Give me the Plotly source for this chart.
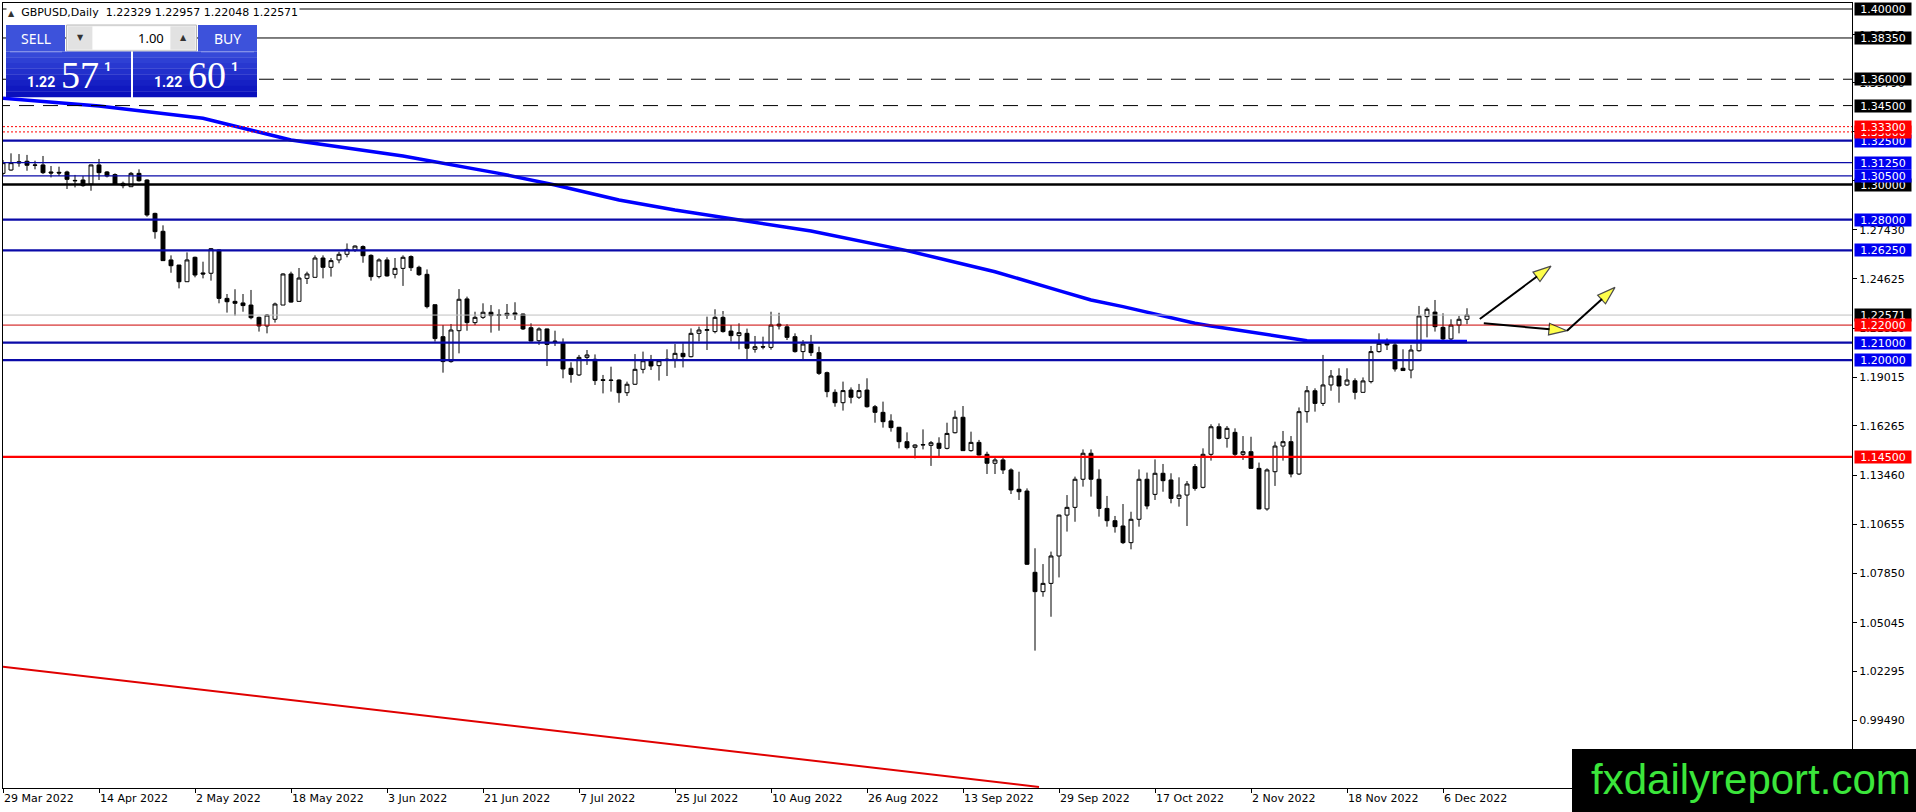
import plotly.graph_objects as go

# ---------------- data ----------------
open_ = [1.3064,1.3083,1.3130,1.3133,1.3112,1.3112,1.3072,1.3070,1.3072,1.3024,
1.3026,1.3003,1.3112,1.3072,1.3057,1.3007,1.2988,1.3064,1.3026,1.2836,
1.2734,1.2571,1.2542,1.2447,1.2586,1.2497,1.2495,1.2628,1.2352,1.2335,
1.2326,1.2314,1.2244,1.2195,1.2233,1.2314,1.2491,1.2335,1.2466,1.2472,
1.2582,1.2529,1.2571,1.2603,1.2628,1.2647,1.2597,1.2476,1.2571,1.2489,
1.2523,1.2590,1.2529,1.2489,1.2316,1.2134,1.1992,1.2168,1.2349,1.2214,
1.2244,1.2273,1.2259,1.2255,1.2269,1.2263,1.2185,1.2111,1.2178,1.2109,
1.2096,1.1954,1.1916,1.2016,1.2005,1.1889,1.1887,1.1887,1.1815,1.1863,
1.1948,1.1997,1.1969,1.2001,1.2005,1.2039,1.2020,1.2153,1.2170,1.2163,
1.2244,1.2166,1.2140,1.2153,1.2062,1.2077,1.2073,1.2205,1.2190,1.2134,
1.2049,1.2092,1.2043,1.1929,1.1817,1.1758,1.1830,1.1789,1.1830,1.1735,
1.1703,1.1654,1.1618,1.1536,1.1504,1.1517,1.1515,1.1527,1.1498,1.1587,
1.1675,1.1485,1.1532,1.1464,1.1413,1.1432,1.1375,1.1265,1.1255,1.0792,
1.0682,1.0729,1.0885,1.1118,1.1162,1.1322,1.1470,1.1322,1.1156,1.1086,
1.1056,1.0961,1.1094,1.1322,1.1236,1.1356,1.1318,1.1213,1.1232,1.1394,
1.1276,1.1464,1.1621,1.1555,1.1589,1.1464,1.1479,1.1384,1.1153,1.1365,
1.1511,1.1536,1.1352,1.1707,1.1826,1.1754,1.1859,1.1910,1.1859,1.1883,
1.1817,1.1878,1.2049,1.2096,1.2087,1.1954,1.1944,1.2054,1.2248,1.2274,
1.2187,1.2121,1.2200,1.22329]

high = [1.3140,1.3178,1.3174,1.3169,1.3136,1.3163,1.3106,1.3102,1.3079,1.3055,
1.3049,1.3114,1.3146,1.3077,1.3064,1.3017,1.3072,1.3087,1.3030,1.2840,
1.2768,1.2597,1.2542,1.2614,1.2590,1.2561,1.2639,1.2632,1.2377,1.2404,
1.2377,1.2400,1.2248,1.2263,1.2328,1.2495,1.2504,1.2525,1.2504,1.2597,
1.2597,1.2582,1.2618,1.2665,1.2654,1.2654,1.2603,1.2580,1.2586,1.2582,
1.2597,1.2597,1.2538,1.2517,1.2316,1.2200,1.2206,1.2405,1.2362,1.2276,
1.2324,1.2314,1.2290,1.2320,1.2330,1.2265,1.2210,1.2187,1.2180,1.2168,
1.2124,1.1988,1.2030,1.2058,1.2033,1.1916,1.1963,1.1891,1.1878,1.2035,
1.2049,1.2030,1.2005,1.2062,1.2092,1.2096,1.2181,1.2191,1.2248,1.2290,
1.2280,1.2200,1.2210,1.2180,1.2138,1.2134,1.2276,1.2270,1.2205,1.2153,
1.2115,1.2144,1.2077,1.1935,1.1834,1.1878,1.1845,1.1865,1.1897,1.1745,
1.1764,1.1692,1.1620,1.1589,1.1521,1.1606,1.1540,1.1561,1.1644,1.1713,
1.1739,1.1593,1.1546,1.1479,1.1451,1.1454,1.1384,1.1365,1.1270,1.0929,
1.0839,1.0910,1.1120,1.1232,1.1337,1.1492,1.1492,1.1378,1.1227,1.1113,
1.1181,1.1137,1.1378,1.1360,1.1435,1.1409,1.1356,1.1333,1.1312,1.1409,
1.1498,1.1635,1.1640,1.1625,1.1612,1.1568,1.1564,1.1417,1.1384,1.1536,
1.1597,1.1568,1.1731,1.1853,1.1840,1.2030,1.1944,1.1954,1.1954,1.1897,
1.1902,1.2081,1.2153,1.2124,1.2109,1.2062,1.2087,1.2309,1.2301,1.2343,
1.2267,1.2233,1.2252,1.22957]

low = [1.3055,1.3079,1.3102,1.3079,1.3087,1.3060,1.3041,1.3049,1.2975,1.2984,
1.2988,1.2965,1.3026,1.3041,1.2998,1.2979,1.2988,1.3017,1.2817,1.2692,
1.2567,1.2498,1.2409,1.2447,1.2472,1.2466,1.2453,1.2324,1.2271,1.2254,
1.2276,1.2233,1.2163,1.2153,1.2214,1.2314,1.2328,1.2335,1.2434,1.2472,
1.2466,1.2476,1.2552,1.2586,1.2616,1.2555,1.2453,1.2466,1.2476,1.2466,
1.2423,1.2508,1.2480,1.2295,1.2106,1.1929,1.1986,1.2039,1.2168,1.2200,
1.2235,1.2157,1.2168,1.2235,1.2229,1.2172,1.2106,1.2087,1.1967,1.2081,
1.1897,1.1872,1.1910,1.1973,1.1859,1.1811,1.1821,1.1758,1.1796,1.1859,
1.1925,1.1944,1.1884,1.1910,1.1957,1.1959,1.2016,1.2106,1.2058,1.2153,
1.2157,1.2106,1.2062,1.2005,1.2043,1.2062,1.2060,1.2175,1.2115,1.2043,
1.2005,1.2024,1.1916,1.1789,1.1735,1.1713,1.1754,1.1779,1.1730,1.1644,
1.1616,1.1593,1.1498,1.1492,1.1441,1.1492,1.1398,1.1454,1.1492,1.1583,
1.1485,1.1479,1.1456,1.1352,1.1352,1.1352,1.1238,1.1204,1.0834,1.0346,
1.0653,1.0539,1.0763,1.1024,1.1080,1.1280,1.1223,1.1109,1.1052,1.1018,
1.0953,1.0923,1.1052,1.1151,1.1204,1.1251,1.1185,1.1166,1.1056,1.1257,
1.1270,1.1428,1.1549,1.1502,1.1454,1.1432,1.1384,1.1151,1.1143,1.1284,
1.1428,1.1333,1.1346,1.1644,1.1707,1.1739,1.1826,1.1758,1.1853,1.1777,
1.1817,1.1868,1.2043,1.2058,1.1935,1.1941,1.1897,1.2049,1.2130,1.2163,
1.2115,1.2109,1.2153,1.22048]

close = [1.3125,1.3125,1.3124,1.3110,1.3110,1.3068,1.3066,1.3066,1.3030,1.3022,
1.2994,1.3112,1.3068,1.3049,1.3002,1.2994,1.3064,1.3022,1.2827,1.2732,
1.2567,1.2538,1.2447,1.2571,1.2485,1.2491,1.2635,1.2352,1.2333,1.2324,
1.2311,1.2242,1.2195,1.2257,1.2320,1.2491,1.2331,1.2468,1.2491,1.2582,
1.2529,1.2567,1.2603,1.2631,1.2650,1.2595,1.2476,1.2571,1.2480,1.2523,
1.2586,1.2527,1.2487,1.2305,1.2123,1.1992,1.2172,1.2347,1.2214,1.2244,
1.2273,1.2254,1.2255,1.2267,1.2259,1.2178,1.2109,1.2178,1.2090,1.2106,
1.1950,1.1919,1.2016,1.2030,1.1884,1.1885,1.1885,1.1815,1.1863,1.1948,
1.1997,1.1967,1.1997,1.2005,1.2039,1.2020,1.2153,1.2172,1.2174,1.2244,
1.2163,1.2140,1.2157,1.2068,1.2077,1.2075,1.2200,1.2195,1.2130,1.2049,
1.2092,1.2043,1.1925,1.1821,1.1758,1.1827,1.1789,1.1827,1.1735,1.1703,
1.1650,1.1616,1.1536,1.1502,1.1517,1.1519,1.1530,1.1498,1.1583,1.1675,
1.1485,1.1532,1.1460,1.1413,1.1432,1.1375,1.1261,1.1251,1.0838,1.0682,
1.0729,1.0885,1.1118,1.1162,1.1322,1.1470,1.1322,1.1156,1.1086,1.1052,
1.0961,1.1094,1.1322,1.1170,1.1356,1.1314,1.1213,1.1232,1.1295,1.1270,
1.1464,1.1621,1.1555,1.1612,1.1464,1.1479,1.1384,1.1153,1.1375,1.1511,
1.1536,1.1352,1.1707,1.1826,1.1754,1.1859,1.1910,1.1853,1.1887,1.1817,
1.1882,1.2049,1.2096,1.2087,1.1950,1.1941,1.2058,1.2252,1.2290,1.2191,
1.2121,1.2200,1.2233,1.22571]

bars = list(range(len(open_)))

date_labels = ["29 Mar 2022", "14 Apr 2022", "2 May 2022", "18 May 2022",
               "3 Jun 2022", "21 Jun 2022", "7 Jul 2022", "25 Jul 2022",
               "10 Aug 2022", "26 Aug 2022", "13 Sep 2022", "29 Sep 2022",
               "17 Oct 2022", "2 Nov 2022", "18 Nov 2022", "6 Dec 2022"]
date_bars = [0, 12, 24, 36, 48, 60, 72, 84, 96, 108, 120, 132, 144, 156, 168, 180]

# moving average, read at a set of bars
ma_bars = [0, 12, 25, 36, 50, 55, 62, 69, 77, 84, 92, 101, 113, 124, 132, 136,
           140, 149, 151, 161, 163, 167, 175, 183]
ma_vals = [1.3492, 1.3448, 1.3378, 1.3254, 1.3163, 1.3121, 1.3064, 1.2998,
           1.2912, 1.2855, 1.2798, 1.2736, 1.2624, 1.2504, 1.2396, 1.2343,
           1.2305, 1.2210, 1.2195, 1.2126, 1.2111, 1.2109, 1.2109, 1.2107]

# horizontal levels
levels_black_thin = [1.40000, 1.38350]
levels_black_dash = [1.36000, 1.34500]
levels_red_dot = [1.33300, 1.33000]
levels_blue_thick = [1.32500, 1.28000, 1.26250, 1.21000, 1.20000]
levels_blue_thin = [1.31250, 1.30500]
levels_black_thick = [1.30000]
levels_red_thick = [1.14500]
levels_red_thin = [1.22000]
last_price = 1.22571

# price labels on the scale (drawing order) and their box kind
label_prices = [1.40000, 1.38350, 1.36000, 1.34500, 1.32500, 1.33000, 1.33300,
                1.31250, 1.30000, 1.30500, 1.28000, 1.26250, 1.22571, 1.22000,
                1.21000, 1.20000, 1.14500]
label_kinds = ["black", "black", "black", "black", "blue", "red", "red",
               "blue", "black", "blue", "blue", "blue", "black", "red",
               "blue", "blue", "red"]

axis_ticks = [1.38525, 1.35790, 1.33040, 1.30235, 1.27430, 1.24625, 1.21820,
              1.19015, 1.16265, 1.13460, 1.10655, 1.07850, 1.05045, 1.02295,
              0.99490]

trend_bars = [0, 129.5]
trend_prices = [1.0255, 0.9570]

arrow1_bars = [184.6, 193.5]
arrow1_prices = [1.2235, 1.2536]
arrow2_bars = [185.1, 195.5, 201.5]
arrow2_prices = [1.2210, 1.2168, 1.2415]

symbol_text = "GBPUSD,Daily"
last_ohlc = ["1.22329", "1.22957", "1.22048", "1.22571"]
bid_parts = ["1.22", "57", "1"]
ask_parts = ["1.22", "60", "1"]
lot_text = "1.00"

# ---------------- geometry / styles ----------------
W, H = 1916, 812
PL, PR, PT, PB = 3, 1852, 3, 788
PX_PER_BAR = 8.0
PX_PER_PRICE = 1756.0
x_range = [0, (PR - PL) / PX_PER_BAR]
y_top = 1.40 + (9 - PT) / PX_PER_PRICE
y_range = [y_top - (PB - PT) / PX_PER_PRICE, y_top]

LINE_BLUE = "#0A0AA8"
MA_BLUE = "#0000FF"
BOX = {"black": "#000000", "blue": "#0000F0", "red": "#FF0000"}
FONT = "DejaVu Sans"


def px(x):
    return (x - PL) / (PR - PL)


def py(y):
    return (PB - y) / (PB - PT)


fig = go.Figure()

fig.add_trace(go.Candlestick(
    x=bars, open=open_, high=high, low=low, close=close,
    increasing=dict(line=dict(color="black", width=1), fillcolor="white"),
    decreasing=dict(line=dict(color="black", width=1), fillcolor="black"),
    whiskerwidth=0, hoverinfo="skip", showlegend=False))

fig.add_trace(go.Scatter(x=ma_bars, y=ma_vals, mode="lines",
                         line=dict(color=MA_BLUE, width=3.5), hoverinfo="skip"))


def hlines(levels, color, width, dash="solid"):
    xs, ys = [], []
    for p in levels:
        xs += [-10, 260, None]
        ys += [p, p, None]
    fig.add_trace(go.Scatter(x=xs, y=ys, mode="lines", hoverinfo="skip",
                             line=dict(color=color, width=width, dash=dash)))


hlines([last_price], "#C0C0C0", 1)
hlines(levels_black_thin, "black", 1)
hlines(levels_black_dash, "black", 1, "15px,9px")
hlines(levels_red_dot, "#FF0000", 1, "2px,2px")
hlines(levels_blue_thin, LINE_BLUE, 1.2)
hlines(levels_blue_thick, LINE_BLUE, 2.2)
hlines(levels_black_thick, "black", 2.5)
hlines(levels_red_thin, "#CC0000", 1)
hlines(levels_red_thick, "#FF0000", 2.2)

fig.add_trace(go.Scatter(x=trend_bars, y=trend_prices, mode="lines",
                         line=dict(color="#E00000", width=2), hoverinfo="skip"))

for xs, ys in [(arrow1_bars, arrow1_prices), (arrow2_bars, arrow2_prices)]:
    n = len(xs)
    fig.add_trace(go.Scatter(
        x=xs, y=ys, mode="lines+markers", hoverinfo="skip",
        line=dict(color="black", width=2),
        marker=dict(symbol="arrow", angleref="previous",
                    size=[0] + [19] * (n - 1), color="#FFFF00",
                    line=dict(color="black", width=[0] + [1.2] * (n - 1)))))

shapes = []
annotations = []

# price labels on the right scale
for p, k in zip(label_prices, label_kinds):
    annotations.append(dict(
        xref="paper", x=1, xanchor="left", xshift=2,
        yref="y", y=p, yanchor="middle",
        text=f"{p:.5f}", showarrow=False, bgcolor=BOX[k],
        width=56, height=12, borderpad=0,
        font=dict(family=FONT, size=11, color="white")))

# header
annotations.append(dict(
    xref="paper", yref="paper", x=px(6), y=py(12.7), xanchor="left",
    yanchor="middle", showarrow=False, bgcolor="white",
    text="<span style='font-size:8px;color:#333'>▲</span>&nbsp;&nbsp;" + symbol_text
         + "&nbsp;&nbsp;" + " ".join(last_ohlc),
    font=dict(family=FONT, size=11, color="black")))


def rect(x0, y0, x1, y1, fill, line_color=None, lw=0):
    shapes.append(dict(type="rect", xref="paper", yref="paper",
                       x0=px(x0), x1=px(x1), y0=py(y1), y1=py(y0),
                       fillcolor=fill, layer="above",
                       line=dict(color=line_color or fill, width=lw)))


# one-click trading panel
rect(6, 25, 65, 51.5, "#3D52DB")
rect(198, 25, 257, 51.5, "#3D52DB")
rect(66.5, 25, 196.5, 51, "#EFEFEF", "#B8B8B8", 1)
rect(68, 26.5, 92.5, 49.5, "#E2E2E2")
rect(92.5, 26.5, 170.5, 49.5, "#FFFFFF")
rect(170.5, 26.5, 195, 49.5, "#E2E2E2")
top_c, bot_c = (0x35, 0x49, 0xD8), (0x0A, 0x10, 0xBC)
nb = 8
for i in range(nb):
    t = i / (nb - 1)
    c = "#%02X%02X%02X" % tuple(int(a + (b - a) * t) for a, b in zip(top_c, bot_c))
    y0 = 51.5 + (97 - 51.5) * i / nb
    y1 = 51.5 + (97 - 51.5) * (i + 1) / nb
    rect(6, y0, 131, y1 + 0.3, c)
    rect(133, y0, 257, y1 + 0.3, c)
for x0, x1 in [(10, 62), (201, 254)]:
    shapes.append(dict(type="line", xref="paper", yref="paper",
                       x0=px(x0), x1=px(x1), y0=py(51.8), y1=py(51.8),
                       layer="above", line=dict(color="#8E9AEC", width=1)))

# watermark box
rect(1572, 749, 1920, 816, "#000000")


def txt(x, y, s, size, color="white", family="Noto Sans", xa="center", ya="middle"):
    annotations.append(dict(xref="paper", yref="paper", x=px(x), y=py(y),
                            xanchor=xa, yanchor=ya, text=s, showarrow=False,
                            font=dict(family=family, size=size, color=color)))


txt(35.5, 38.5, "SELL", 14)
txt(227, 38.5, "BUY", 14)
txt(80.5, 38, "▼", 8, "#333333", FONT)
txt(183, 38, "▲", 8, "#333333", FONT)
txt(165.5, 38.5, lot_text, 13, "black", "Noto Sans", xa="right")
for base, (p1, p2, p3) in [(0, bid_parts), (127, ask_parts)]:
    txt(41 + base, 82, "<b>" + p1 + "</b>", 14, family="Roboto")
    txt(80 + base, 75, p2, 38, family="Liberation Sans Narrow")
    txt(107.5 + base, 66.5, "<b>" + p3 + "</b>", 13, family="Roboto")

txt(1589, 779.5, "fxdailyreport.com", 42, "#3BE63B", "Liberation Sans", xa="left")

fig.update_layout(
    width=W, height=H, autosize=False,
    margin=dict(l=PL, r=W - PR, t=PT, b=H - PB, pad=0),
    paper_bgcolor="white", plot_bgcolor="white", showlegend=False,
    shapes=shapes, annotations=annotations,
    xaxis=dict(range=x_range, tickmode="array", tickvals=date_bars, ticktext=date_labels,
               ticks="outside", ticklen=4, tickcolor="black", tickwidth=1,
               ticklabelposition="outside right",
               showgrid=False, zeroline=False, showline=True, linecolor="black",
               linewidth=1, mirror=True, rangeslider=dict(visible=False),
               tickfont=dict(family=FONT, size=11, color="black"), fixedrange=True),
    yaxis=dict(range=y_range, side="right", tickmode="array", tickvals=axis_ticks,
               ticktext=[f"{v:.5f}" for v in axis_ticks],
               ticks="outside", ticklen=4, tickcolor="black", tickwidth=1,
               showgrid=False, zeroline=False, showline=True, linecolor="black",
               linewidth=1, mirror=True,
               tickfont=dict(family=FONT, size=11, color="black"), fixedrange=True),
)

fig.write_html("out.html", config={"displayModeBar": False},
               post_script="document.body.style.margin='0px';document.body.style.overflow='hidden';")
